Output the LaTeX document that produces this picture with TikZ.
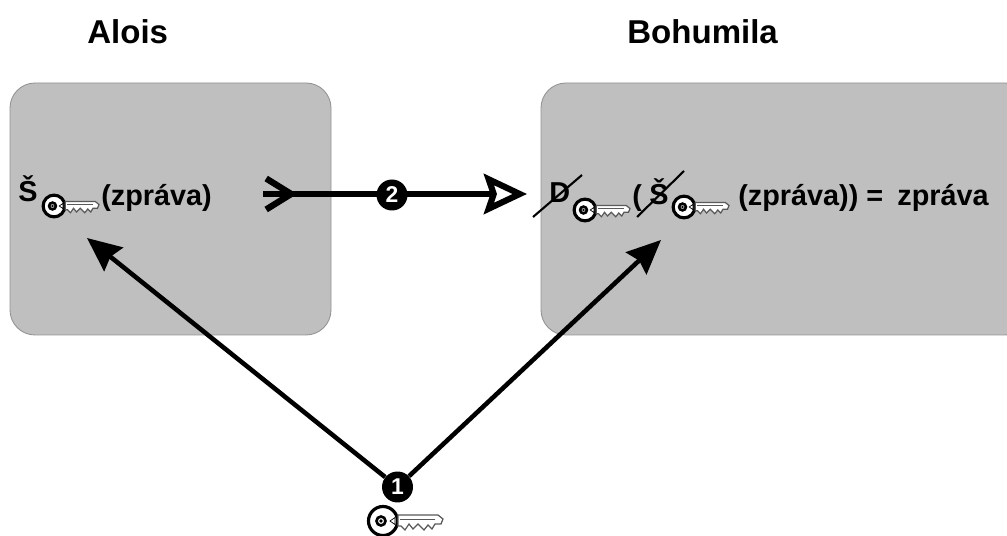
\documentclass[tikz,border=0pt]{standalone}
\usepackage{fontspec}
\setmainfont{Liberation Sans}
\usetikzlibrary{arrows.meta}

\tikzset{
  party/.style={draw=gray!85,line width=0.5pt,fill=gray!50!white,rounded corners=0.5cm},
  label/.style={font=\fontsize{16.4}{18}\selectfont\bfseries,anchor=base west,inner sep=0pt},
  title/.style={font=\fontsize{18.8}{21}\selectfont\bfseries,anchor=base west,inner sep=0pt},
  badge/.style={circle,fill=black,text=white,inner sep=0pt,minimum size=0.62cm,font=\fontsize{13}{14}\selectfont\bfseries},
  strike/.style={line width=1.2pt},
  keyarrow/.style={line width=2.6pt,-{Stealth[length=0.68cm,width=0.6cm,inset=0.08cm]}},
  sendline/.style={line width=3.4pt},
  sendarrow/.style={sendline,{Straight Barb[reversed,length=0.5cm,width=0.62cm,line width=3.6pt]}-{Stealth[open,fill=white,length=0.86cm,width=0.8cm,inset=0.13cm,line width=3.5pt]}},
  keypic/.pic={
    \draw[line width=1.8pt,fill=white] (0,0) circle (14.5);
    \draw[line width=1.5pt,fill=white] (-2,0) circle (4.5);
    \fill (-2,0) circle (1.8);
    \draw[line width=0.4pt,fill=white] (12,-3.5) -- (7,0) -- (12,3.5) -- cycle;
    \draw[gray!70!black,line width=0.7pt,fill=white] (15,-6) -- (55,-6) -- (60,-2) -- (58,3) -- (52,3) -- (49,8) -- (45,4) -- (41,9) -- (35,3) -- (30,8) -- (26,3) -- (22,9) -- (18,5) -- (15,5) -- cycle;
    \draw[gray!70!black,line width=0.4pt] (17,-2) -- (52,-2);
  }
}

\begin{document}
\begin{tikzpicture}[x=0.02cm,y=-0.02cm]
\useasboundingbox (0,0) rectangle (1007,536);

% the two parties
\draw [party] (10,83) rectangle (331,335);
\draw [party] (541,83) rectangle (1030,335);
\node [title] (alois) at (87,44) {Alois};
\node [title] (bohumila) at (627,44) {Bohumila};

% left side
\node [label] (sifra) at (18,202) {Š};
\pic at (54,206) [scale=0.75] {keypic};
\node [label] (zpravaA) at (101,206) {(zpráva)};

% right side
\node [label] (desifra) at (549,203) {D};
\pic at (585,210) [scale=0.75] {keypic};
\node [label] (zavorka) at (632,206) {(};
\node [label] (sifraB) at (649,205) {Š};
\pic at (684,207) [scale=0.75] {keypic};
\node [label] (vysledek) at (738,206) {(zpráva)) =\ \hspace{3.5pt}zpráva};
\coordinate (dA) at (533,217);
\coordinate (dB) at (582,175);
\coordinate (sA) at (637,217);
\coordinate (sB) at (684,171);
\draw [strike] (dA) -- (dB);
\draw [strike] (sA) -- (sB);

% arrows
\coordinate (klicA) at (87,238);
\coordinate (klicB) at (661,240);
\coordinate (sendfrom) at (263,194);
\coordinate (forkjoin) at (292,194);
\coordinate (sendto) at (527,194);
\node [badge] (krok1) at (397.5,487) {1};
\draw [keyarrow] (krok1) -- (klicA);
\draw [keyarrow] (krok1) -- (klicB);
\draw [sendarrow] (sendfrom) -- (sendto);
\draw [sendline] (sendfrom) -- (forkjoin);
\node [badge] (krok2) at (392,195) {2};
\pic at (383,521) {keypic};

\end{tikzpicture}
\end{document}
